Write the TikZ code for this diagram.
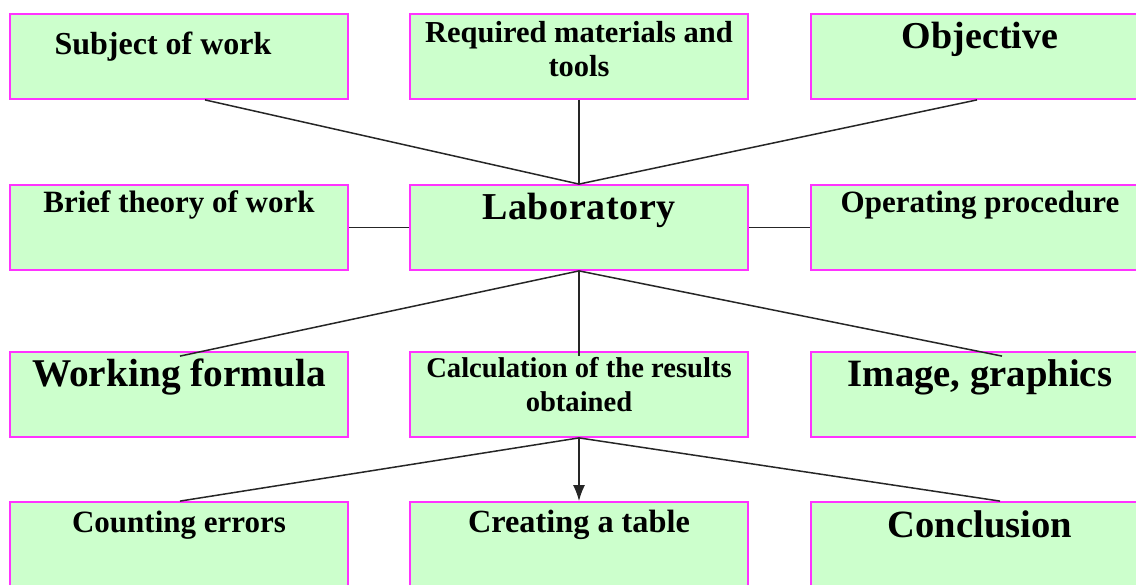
\documentclass[tikz,border=0pt]{standalone}
\usepackage{fontspec}
\setmainfont{Liberation Serif}
\usetikzlibrary{arrows.meta}
\definecolor{cellfill}{HTML}{CCFFCC}
\definecolor{celledge}{HTML}{FF33FF}
\newcommand{\cellfont}[1]{\fontsize{#1}{34}\selectfont\bfseries}
% fixed-size cell, text hung from the top: [x offset]{first baseline}{text}
\newcommand{\celltext}[3][0pt]{\parbox[c][85pt][t]{338pt}{\centering\hspace*{#1}\rule{0pt}{#2}#3}}
\tikzset{
    cell/.style={draw=celledge, line width=1.8pt, fill=cellfill, inner sep=0pt},
    link/.style={draw=black!85, line width=1.5pt},
}

\begin{document}
\begin{tikzpicture}[x=1pt,y=-1pt]
    \useasboundingbox (0,0) rectangle (1136,585);

    % Top row
    \node[cell, font=\cellfont{32}] (subj) at (179,56.5) {\celltext[-32pt]{41pt}{Subject of work}};
    \node[cell, font=\cellfont{30.5}] (mat) at (579,56.5) {\celltext{29pt}{Required materials and\\tools}};
    \node[cell, font=\cellfont{38}] (goal) at (980,56.5) {\celltext{35pt}{Objective}};

    % Middle row
    \node[cell, font=\cellfont{31}] (theory) at (179,227.5) {\celltext{28pt}{Brief theory of work}};
    \node[cell, font=\cellfont{38}] (lab) at (579,227.5) {\celltext{35pt}{\addfontfeature{LetterSpace=1.5}Laboratory}};
    \node[cell, font=\cellfont{31}] (proc) at (980,227.5) {\celltext{28pt}{Operating procedure}};

    % Third row
    \node[cell, font=\cellfont{39.3}] (formula) at (179,394.5) {\celltext{35pt}{Working formula}};
    \node[cell, font=\cellfont{28.6}] (calc) at (579,394.5) {\celltext{26pt}{Calculation of the results\\obtained}};
    \node[cell, font=\cellfont{38.7}] (img) at (980,394.5) {\celltext{35pt}{Image, graphics}};

    % Bottom row
    \node[cell, font=\cellfont{31}] (err) at (179,544.5) {\celltext{30pt}{Counting errors}};
    \node[cell, font=\cellfont{32.3}] (table) at (579,544.5) {\celltext{30pt}{Creating a table}};
    \node[cell, font=\cellfont{38.6}] (concl) at (980,544.5) {\celltext{35pt}{Conclusion}};

    % Connectors
    \draw[link] ([xshift=26pt]subj.south) -- (lab.north);
    \draw[link] (mat.south) -- (lab.north);
    \draw[link] ([xshift=-3pt]goal.south) -- (lab.north);
    \draw[link] (theory.east) -- (lab.west);
    \draw[link] (lab.east) -- (proc.west);
    \draw[link] (lab.south) -- ([xshift=1pt,yshift=-5pt]formula.north);
    \draw[link] (lab.south) -- ([yshift=-5pt]calc.north);
    \draw[link] (lab.south) -- ([xshift=22pt,yshift=-5pt]img.north);
    \draw[link] (calc.south) -- ([xshift=1pt]err.north);
    \draw[link] (calc.south) -- ([xshift=20pt]concl.north);
    \draw[link, -{Latex[length=16pt,width=12pt]}] (calc.south) -- (table.north);
\end{tikzpicture}
\end{document}
